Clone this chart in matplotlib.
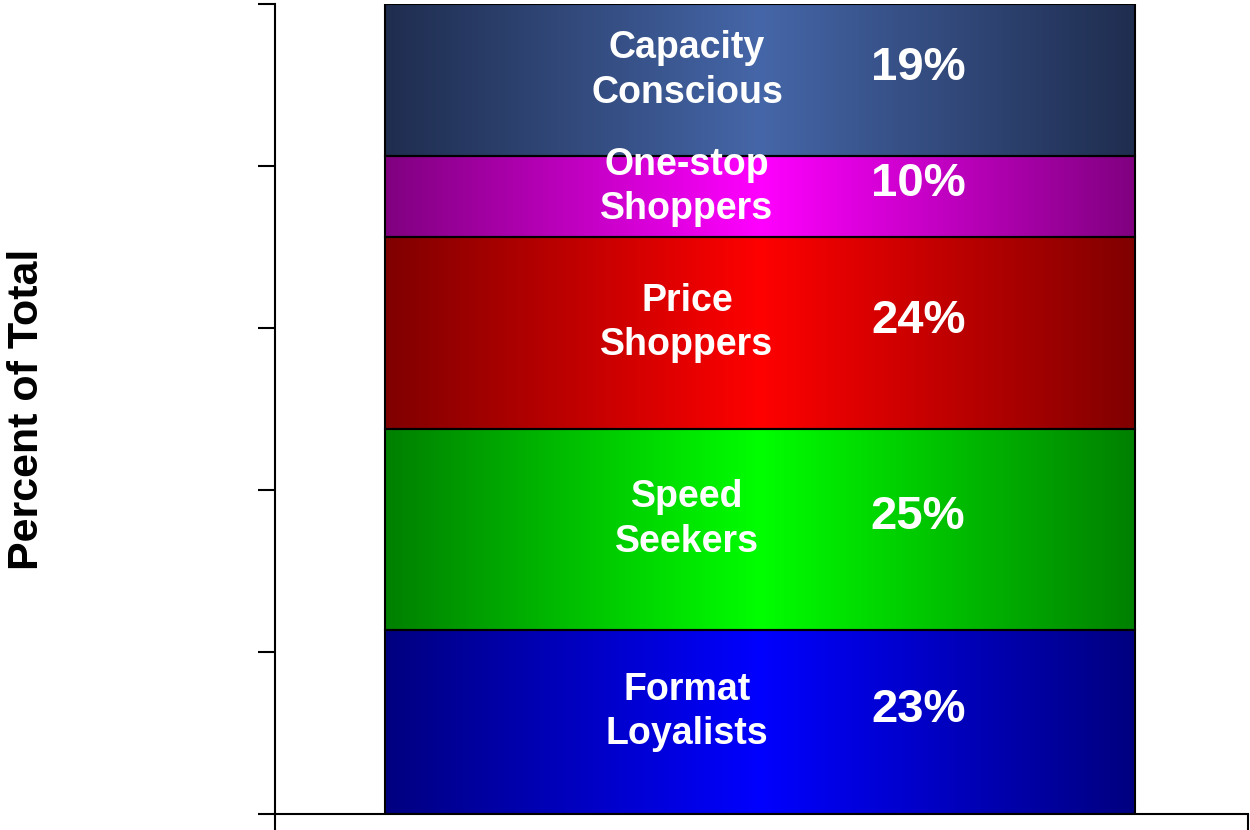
import matplotlib.pyplot as plt
import numpy as np
from matplotlib.colors import LinearSegmentedColormap

plt.rcParams['font.family'] = ['Liberation Sans', 'DejaVu Sans']

# segments from bottom to top
segments = ['Format\nLoyalists', 'Speed\nSeekers', 'Price\nShoppers',
            'One-stop\nShoppers', 'Capacity\nConscious']
shares = [23, 25, 24, 10, 19]
edge_colors = ['#000080', '#008000', '#800000', '#800080', '#1f2d4f']
center_colors = ['#0000ff', '#00ff00', '#ff0000', '#ff00ff', '#4566a8']
y_ticks = [0, 20, 40, 60, 80, 100]

fig = plt.figure(figsize=(12.5, 8.3), dpi=100)
ax = fig.add_axes([0.22, 0.0193, 0.7784, 0.9759])

bar_left = 0.113
bar_width = 0.771

# 100% stacked: heights normalised to the total
heights = np.array(shares) / sum(shares) * 100
bottoms = np.concatenate([[0], np.cumsum(heights)[:-1]])

for i, (h, b) in enumerate(zip(heights, bottoms)):
    rect = ax.bar(bar_left, h, width=bar_width, bottom=b, align='edge',
                  facecolor='none', edgecolor='black', linewidth=1.5, zorder=3)[0]
    cmap = LinearSegmentedColormap.from_list(
        'g%d' % i, [edge_colors[i], center_colors[i], edge_colors[i]])
    grad = np.linspace(0, 1, 256).reshape(1, -1)
    im = ax.imshow(grad, cmap=cmap, aspect='auto', interpolation='bilinear',
                   extent=[bar_left, bar_left + bar_width, b, b + h], zorder=2)
    im.set_clip_path(rect)

    mid = b + h / 2
    ax.text(0.4234, mid + 1.2, segments[i], color='white', fontsize=27,
            fontweight='bold', ha='center', va='center', zorder=4,
            linespacing=1.3)
    ax.text(0.661, mid + 1.5, '%d%%' % shares[i], color='white', fontsize=34,
            fontweight='bold', ha='center', va='center', zorder=4)

ax.set_xlim(0, 1)
ax.set_ylim(0, 100)
ax.set_yticks(y_ticks)
ax.set_yticklabels([])
ax.set_xticks([0, 1])
ax.set_xticklabels([])
ax.tick_params(axis='both', direction='out', length=12, width=1.5, color='black')

for side in ['top', 'right']:
    ax.spines[side].set_visible(False)
for side in ['left', 'bottom']:
    ax.spines[side].set_linewidth(1.5)

fig.text(0.0215, 0.507, 'Percent of Total', rotation=90, fontsize=31,
         fontweight='bold', ha='center', va='center')

fig.savefig('out.png', dpi=100)
